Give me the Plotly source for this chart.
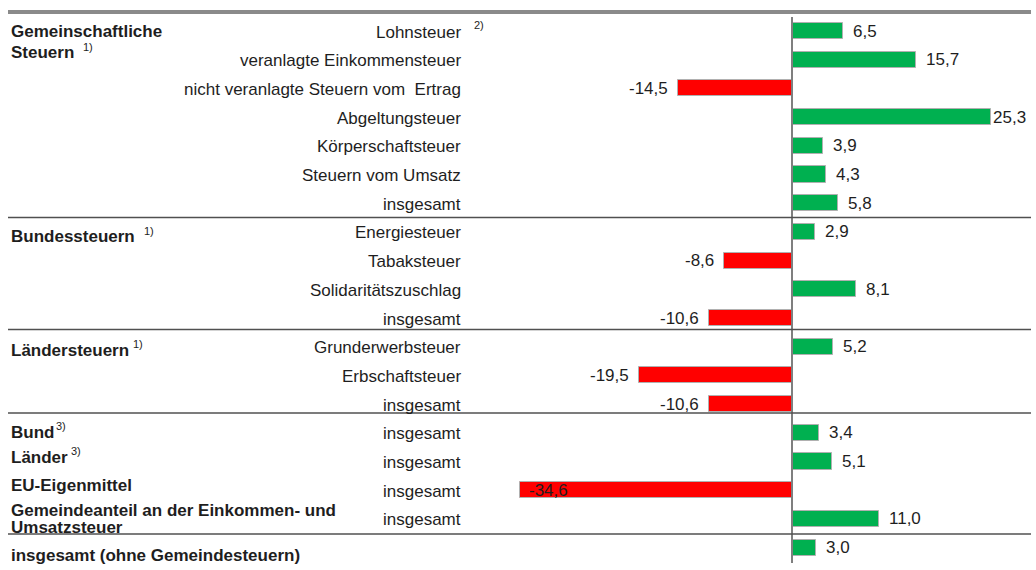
import plotly.graph_objects as go

# ---------------- data ----------------
categories = [
    "Lohnsteuer", "veranlagte Einkommensteuer", "nicht veranlagte Steuern vom\u00a0 Ertrag",
    "Abgeltungsteuer", "Körperschaftsteuer", "Steuern vom Umsatz", "insgesamt",
    "Energiesteuer", "Tabaksteuer", "Solidaritätszuschlag", "insgesamt",
    "Grunderwerbsteuer", "Erbschaftsteuer", "insgesamt",
    "insgesamt", "insgesamt", "insgesamt", "insgesamt",
    "",
]
category_notes = ["2)", "", "", "", "", "", "", "", "", "", "", "", "", "", "", "", "", "", ""]
values = [6.5, 15.7, -14.5, 25.3, 3.9, 4.3, 5.8,
          2.9, -8.6, 8.1, -10.6,
          5.2, -19.5, -10.6,
          3.4, 5.1, -34.6, 11.0,
          3.0]
group_lines = ["Gemeinschaftliche", "Steuern", "Bundessteuern", "Ländersteuern",
               "Bund", "Länder", "EU-Eigenmittel",
               "Gemeindeanteil an der Einkommen- und", "Umsatzsteuer",
               "insgesamt (ohne Gemeindesteuern)"]
group_notes = ["", "1)", "1)", "1)", "3)", "3)", "", "", "", ""]

# ---------------- layout helpers (styles / positions) ----------------
W, H = 1036, 570
ZERO_PX, PX_PER_UNIT = 792, 7.87
ROW0_PX, ROW_STEP = 31, 28.7
FONT = "Liberation Sans, Arial, sans-serif"
TXT = "#1e1e1e"

x_range = [-ZERO_PX / PX_PER_UNIT, (W - ZERO_PX) / PX_PER_UNIT]
r_top = -ROW0_PX / ROW_STEP
r_bot = r_top + H / ROW_STEP


def py(px):
    return 1 - px / H


def pxx(px):
    return px / W


rows = list(range(len(values)))
colors = ["#00B050" if v >= 0 else "#FF0000" for v in values]

fig = go.Figure(go.Bar(
    x=values, y=rows, orientation="h", width=0.56,
    marker=dict(color=colors, line=dict(color="#b0b0b0", width=1)),
    hoverinfo="skip",
))

ann = []
# value labels
for i, v in enumerate(values):
    t = f"{v:.1f}".replace(".", ",")
    if v >= 0:
        shift = 0 if v > 20 else 8
        ann.append(dict(x=v, y=i, xref="x", yref="y", text=t, xanchor="left",
                        xshift=shift, showarrow=False))
    elif v < -30:
        ann.append(dict(x=v, y=i, xref="x", yref="y", text=t, xanchor="left",
                        xshift=7, showarrow=False))
    else:
        ann.append(dict(x=v, y=i, xref="x", yref="y", text=t, xanchor="right",
                        xshift=-8, showarrow=False))

# category labels
for i, (c, n) in enumerate(zip(categories, category_notes)):
    if not c:
        continue
    ann.append(dict(x=pxx(463), y=i, xref="paper", yref="y", text=c, xanchor="right",
                    yshift=-1, showarrow=False))
    if n:
        ann.append(dict(x=pxx(472), y=i, xref="paper", yref="y", text=n, xanchor="left",
                        yshift=6, showarrow=False, font=dict(size=11)))

# group labels (pixel positions)
group_y = [32, 53, 237, 350, 432, 457, 485, 510, 527, 555]
note_x = [0, 81, 142, 131, 54, 69, 0, 0, 0, 0]
for g, n, yy, nx in zip(group_lines, group_notes, group_y, note_x):
    ann.append(dict(x=pxx(9), y=py(yy), xref="paper", yref="paper", text="<b>" + g + "</b>",
                    xanchor="left", yanchor="middle", showarrow=False))
    if n:
        ann.append(dict(x=pxx(nx), y=py(yy - 6), xref="paper", yref="paper", text=n,
                        xanchor="left", yanchor="middle", showarrow=False,
                        font=dict(size=11)))

shapes = [
    dict(type="line", xref="paper", yref="paper", x0=pxx(8), x1=pxx(1031),
         y0=py(12), y1=py(12), line=dict(color="#8a8a8a", width=4)),
    dict(type="line", xref="x", yref="paper", x0=0, x1=0, y0=py(17), y1=py(563),
         line=dict(color="#7f7f7f", width=2)),
]
for yy in [217.5, 329.5, 413, 534]:
    shapes.append(dict(type="line", xref="paper", yref="paper", x0=pxx(8), x1=pxx(1031),
                       y0=py(yy), y1=py(yy), line=dict(color="#505050", width=1.6)))

fig.update_layout(
    width=W, height=H, autosize=False,
    margin=dict(l=0, r=0, t=0, b=0),
    paper_bgcolor="white", plot_bgcolor="white",
    showlegend=False, bargap=0,
    font=dict(family=FONT, size=17, color=TXT),
    xaxis=dict(range=x_range, visible=False, fixedrange=True),
    yaxis=dict(range=[r_bot, r_top], visible=False, fixedrange=True),
    annotations=ann, shapes=shapes,
)

fig.write_html("out.html", config={"displayModeBar": False},
               post_script="document.body.style.margin='0';document.body.style.overflow='hidden';")
